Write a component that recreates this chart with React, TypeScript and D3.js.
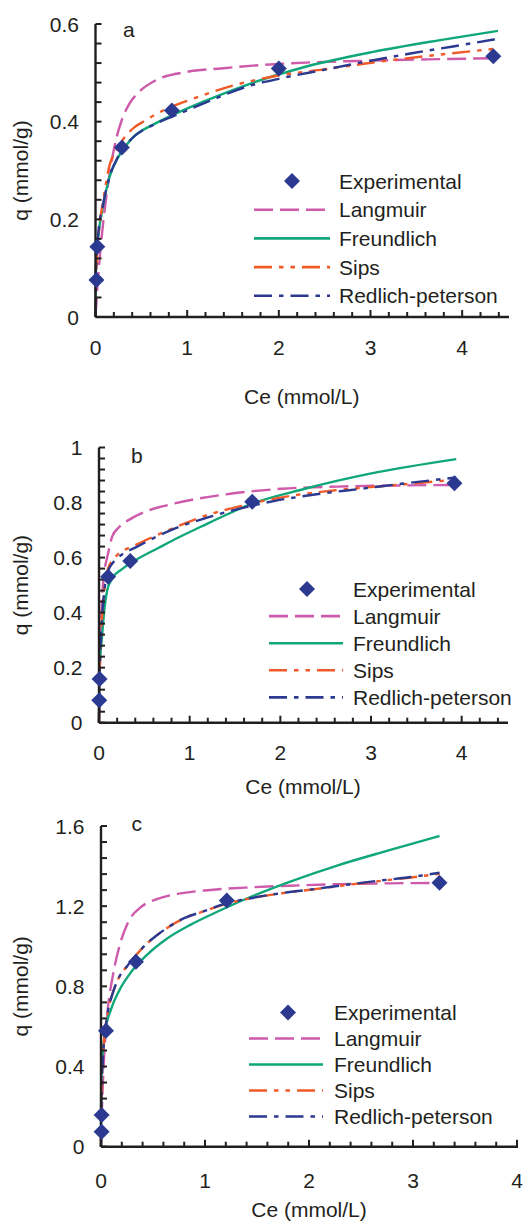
import React from "react";
import * as d3 from "d3";

type Pt = [number, number];

// ---------- tick labels ----------
const xTickLabels = [0, 1, 2, 3, 4];
const yTicksA = [0, 0.2, 0.4, 0.6];
const yTicksB = [0, 0.2, 0.4, 0.6, 0.8, 1];
const yTicksC = [0, 0.4, 0.8, 1.2, 1.6];

const seriesNames = ["Experimental", "Langmuir", "Freundlich", "Sips", "Redlich-peterson"];

// ---------- panel a ----------
const expCeA = [0.01, 0.02, 0.288, 0.833, 2.0, 4.34];
const expQA = [0.076, 0.144, 0.347, 0.423, 0.509, 0.534];
const langmuirA: Pt[] = [
  [0, 0], [0.02, 0.06], [0.05, 0.13], [0.1, 0.22], [0.16, 0.3], [0.22, 0.36], [0.29, 0.405],
  [0.37, 0.437], [0.47, 0.46], [0.65, 0.484], [1.0, 0.502], [1.37, 0.509], [1.6, 0.513],
  [2.3, 0.521], [3.0, 0.525], [3.75, 0.528], [4.38, 0.53],
];
const freundlichA: Pt[] = [
  [0, 0], [0.002, 0.08], [0.01, 0.12], [0.03, 0.165], [0.08, 0.225], [0.15, 0.285], [0.25, 0.328],
  [0.39, 0.364], [0.65, 0.396], [0.87, 0.416], [1.19, 0.442], [1.6, 0.472], [2.3, 0.513],
  [3.03, 0.543], [3.76, 0.567], [4.39, 0.586],
];
const sipsA: Pt[] = [
  [0, 0], [0.01, 0.1], [0.04, 0.18], [0.09, 0.245], [0.14, 0.3], [0.25, 0.348], [0.39, 0.383],
  [0.54, 0.402], [0.76, 0.425], [1.08, 0.448], [1.52, 0.475], [1.98, 0.494], [2.49, 0.507],
  [3.1, 0.523], [3.74, 0.537], [4.4, 0.55],
];
const redlichA: Pt[] = [
  [0, 0], [0.005, 0.1], [0.03, 0.17], [0.08, 0.228], [0.15, 0.285], [0.25, 0.33], [0.4, 0.366],
  [0.65, 0.395], [0.9, 0.415], [1.2, 0.439], [1.69, 0.474], [2.03, 0.489], [2.49, 0.506],
  [2.98, 0.524], [3.45, 0.54], [3.9, 0.554], [4.4, 0.57],
];

// ---------- panel b ----------
const expCeB = [0.003, 0.006, 0.1, 0.345, 1.69, 3.92];
const expQB = [0.082, 0.159, 0.53, 0.588, 0.803, 0.87];
const langmuirB: Pt[] = [
  [0, 0], [0.01, 0.2], [0.03, 0.42], [0.06, 0.55], [0.09, 0.6], [0.11, 0.63], [0.145, 0.676],
  [0.22, 0.71], [0.33, 0.737], [0.51, 0.767], [0.76, 0.791], [1.09, 0.814], [1.45, 0.832],
  [2.01, 0.85], [2.63, 0.858], [3.3, 0.862], [3.95, 0.864],
];
const freundlichB: Pt[] = [
  [0, 0], [0.003, 0.15], [0.01, 0.22], [0.03, 0.3], [0.055, 0.397], [0.09, 0.48], [0.145, 0.524],
  [0.25, 0.557], [0.4, 0.59], [0.655, 0.635], [0.87, 0.672], [1.13, 0.713], [1.38, 0.752],
  [1.64, 0.79], [2.27, 0.85], [2.99, 0.905], [3.94, 0.958],
];
const sipsB: Pt[] = [
  [0, 0], [0.005, 0.15], [0.02, 0.3], [0.05, 0.45], [0.1, 0.56], [0.15, 0.59], [0.2, 0.609],
  [0.4, 0.645], [0.58, 0.673], [0.84, 0.71], [1.2, 0.755], [1.6, 0.79], [2.0, 0.818],
  [2.56, 0.843], [3.21, 0.862], [3.9, 0.882],
];
const redlichB: Pt[] = [
  [0, 0], [0.005, 0.15], [0.02, 0.3], [0.05, 0.45], [0.1, 0.55], [0.15, 0.58], [0.2, 0.597],
  [0.44, 0.643], [0.84, 0.706], [1.2, 0.746], [1.54, 0.777], [1.94, 0.806], [2.42, 0.831],
  [2.89, 0.85], [3.36, 0.869], [3.94, 0.891],
];

// ---------- panel c ----------
const expCeC = [0.006, 0.006, 0.048, 0.336, 1.21, 3.255];
const expQC = [0.075, 0.158, 0.579, 0.923, 1.228, 1.317];
const langmuirC: Pt[] = [
  [0, 0], [0.01, 0.2], [0.03, 0.45], [0.064, 0.68], [0.112, 0.848], [0.176, 0.998], [0.256, 1.115],
  [0.384, 1.195], [0.543, 1.236], [0.735, 1.261], [1.055, 1.281], [1.44, 1.294], [1.81, 1.302],
  [2.29, 1.31], [2.77, 1.314], [3.25, 1.316],
];
const freundlichC: Pt[] = [
  [0, 0], [0.001, 0.2], [0.006, 0.39], [0.038, 0.566], [0.096, 0.685], [0.176, 0.78], [0.288, 0.87],
  [0.448, 0.96], [0.64, 1.04], [0.863, 1.108], [1.118, 1.172], [1.374, 1.232], [1.806, 1.32],
  [2.285, 1.405], [2.765, 1.478], [3.255, 1.55],
];
const sipsC: Pt[] = [
  [0, 0], [0.004, 0.25], [0.02, 0.45], [0.064, 0.666], [0.112, 0.765], [0.176, 0.848], [0.247, 0.898],
  [0.336, 0.955], [0.455, 1.02], [0.55, 1.06], [0.8, 1.14], [0.99, 1.175], [1.21, 1.213],
  [1.39, 1.234], [1.68, 1.26], [2.06, 1.285], [2.35, 1.305], [2.67, 1.325], [2.96, 1.342], [3.255, 1.362],
];
const redlichC: Pt[] = [
  [0, 0], [0.004, 0.25], [0.02, 0.45], [0.064, 0.666], [0.112, 0.765], [0.176, 0.848], [0.247, 0.898],
  [0.336, 0.955], [0.455, 1.02], [0.55, 1.06], [0.8, 1.14], [0.99, 1.175], [1.21, 1.215],
  [1.39, 1.235], [1.68, 1.261], [2.06, 1.286], [2.35, 1.306], [2.67, 1.327], [2.96, 1.344], [3.255, 1.367],
];

// ---------- styles ----------
const INK = "#231F20";
const FONT = "'Liberation Sans', Arial, Helvetica, sans-serif";
const FS = 21;
const styles = {
  Langmuir: { color: "#CD5AAA", dash: "19,7" },
  Freundlich: { color: "#0FA77A", dash: "" },
  Sips: { color: "#F05A28", dash: "18,7,4.5,7,4.5,7" },
  Redlich: { color: "#2B3990", dash: "18,7,4.5,7" },
  exp: "#2B3990",
};

type PanelCfg = {
  letter: string;
  letterPos: [number, number];
  xDomain: [number, number];
  xRange: [number, number];
  yDomain: [number, number];
  yRange: [number, number];
  yTicks: number[];
  yMinor: number;
  xLabelDy: number;
  xTitleY: number;
  legend: { x0: number; x1: number; mx: number; tx: number; y0: number; dy: number };
  expCe: number[];
  expQ: number[];
  lang: Pt[];
  freu: Pt[];
  sips: Pt[];
  red: Pt[];
};

const panels: PanelCfg[] = [
  {
    letter: "a", letterPos: [123, 36.5],
    xDomain: [0, 4.5], xRange: [95.5, 508], yDomain: [0, 0.6], yRange: [317, 24],
    yTicks: yTicksA, yMinor: 0.04, xLabelDy: 38, xTitleY: 403.5,
    legend: { x0: 254, x1: 330, mx: 292, tx: 339, y0: 181, dy: 28.7 },
    expCe: expCeA, expQ: expQA, lang: langmuirA, freu: freundlichA, sips: sipsA, red: redlichA,
  },
  {
    letter: "b", letterPos: [131, 462.7],
    xDomain: [0, 4.5], xRange: [99, 507], yDomain: [0, 1], yRange: [722.7, 447.5],
    yTicks: yTicksB, yMinor: 0.04, xLabelDy: 37.5, xTitleY: 794,
    legend: { x0: 269, x1: 343, mx: 307, tx: 353, y0: 589, dy: 27.1 },
    expCe: expCeB, expQ: expQB, lang: langmuirB, freu: freundlichB, sips: sipsB, red: redlichB,
  },
  {
    letter: "c", letterPos: [131.5, 831],
    xDomain: [0, 4], xRange: [101, 517], yDomain: [0, 1.6], yRange: [1146.7, 826],
    yTicks: yTicksC, yMinor: 0.08, xLabelDy: 41, xTitleY: 1216.5,
    legend: { x0: 249, x1: 323, mx: 288, tx: 334, y0: 1012.5, dy: 26 },
    expCe: expCeC, expQ: expQC, lang: langmuirC, freu: freundlichC, sips: sipsC, red: redlichC,
  },
];

const diamond = d3.symbol(d3.symbolSquare, 128)() as string;

function Panel({ p }: { p: PanelCfg }) {
  const x = d3.scaleLinear().domain(p.xDomain).range(p.xRange);
  const y = d3.scaleLinear().domain(p.yDomain).range(p.yRange);
  const line = d3
    .line<Pt>()
    .x((d) => x(d[0]))
    .y((d) => y(d[1]))
    .curve(d3.curveMonotoneX);
  const x0 = p.xRange[0];
  const y0 = p.yRange[0];
  const xMinor = d3.range(0, p.xDomain[1] + 1e-6, 0.2);
  const yMinor = d3.range(0, p.yDomain[1] + 1e-6, p.yMinor);
  const midY = (p.yRange[0] + p.yRange[1]) / 2;
  const midX = (p.xRange[0] + p.xRange[1]) / 2;
  const series = [
    { key: "Langmuir", data: p.lang, st: styles.Langmuir },
    { key: "Freundlich", data: p.freu, st: styles.Freundlich },
    { key: "Sips", data: p.sips, st: styles.Sips },
    { key: "Redlich", data: p.red, st: styles.Redlich },
  ];
  const L = p.legend;
  return (
    <g>
      {series.map((s) => (
        <path
          key={s.key}
          d={line(s.data) as string}
          fill="none"
          stroke={s.st.color}
          strokeWidth={2.4}
          strokeDasharray={s.st.dash || undefined}
        />
      ))}
      <line x1={x0} x2={x0} y1={y0} y2={p.yRange[1]} stroke={INK} strokeWidth={2.4} />
      <line x1={x0} x2={p.xRange[1] + 1} y1={y0} y2={y0} stroke={INK} strokeWidth={2.4} />
      {yMinor.map((v, i) => (
        <line key={"ym" + i} x1={x0} x2={x0 + 6} y1={y(v)} y2={y(v)} stroke={INK} strokeWidth={2} />
      ))}
      {xMinor.map((v, i) => {
        const major = Math.abs(v - Math.round(v)) < 1e-6;
        return (
          <line key={"xm" + i} x1={x(v)} x2={x(v)} y1={y0} y2={y0 - (major ? 7 : 5)} stroke={INK} strokeWidth={2} />
        );
      })}
      {p.yTicks.map((v) => (
        <text key={"yl" + v} x={x0 - 16.5} y={y(v) + 7.5} textAnchor="end" fontSize={FS} fontFamily={FONT} fill={INK}>
          {String(v)}
        </text>
      ))}
      {xTickLabels.map((v) => (
        <text key={"xl" + v} x={x(v)} y={y0 + p.xLabelDy} textAnchor="middle" fontSize={FS} fontFamily={FONT} fill={INK}>
          {String(v)}
        </text>
      ))}
      <text x={midX} y={p.xTitleY} textAnchor="middle" fontSize={FS} fontFamily={FONT} fill={INK}>
        Ce (mmol/L)
      </text>
      <text
        transform={`translate(27.5,${midY}) rotate(-90)`}
        textAnchor="middle"
        fontSize={FS}
        fontFamily={FONT}
        fill={INK}
      >
        q (mmol/g)
      </text>
      <text x={p.letterPos[0]} y={p.letterPos[1]} fontSize={FS} fontFamily={FONT} fill={INK}>
        {p.letter}
      </text>
      {p.expCe.map((c, i) => (
        <path
          key={"e" + i}
          d={diamond}
          transform={`translate(${x(c)},${y(p.expQ[i])}) rotate(45)`}
          fill={styles.exp}
        />
      ))}
      <path d={diamond} transform={`translate(${L.mx},${L.y0}) rotate(45)`} fill={styles.exp} />
      <text x={L.tx} y={L.y0 + 7.5} fontSize={FS} fontFamily={FONT} fill={INK}>
        {seriesNames[0]}
      </text>
      {series.map((s, i) => {
        const yy = L.y0 + L.dy * (i + 1);
        return (
          <g key={"lg" + s.key}>
            <line
              x1={L.x0}
              x2={L.x1}
              y1={yy}
              y2={yy}
              stroke={s.st.color}
              strokeWidth={2.6}
              strokeDasharray={s.st.dash || undefined}
            />
            <text x={L.tx} y={yy + 7.5} fontSize={FS} fontFamily={FONT} fill={INK}>
              {seriesNames[i + 1]}
            </text>
          </g>
        );
      })}
    </g>
  );
}

export default function App() {
  return (
    <svg
      width={528}
      height={1222}
      viewBox="0 0 528 1222"
      style={{ position: "absolute", left: 0, top: 0, background: "#fff" }}
    >
      <rect x={0} y={0} width={528} height={1222} fill="#fff" />
      {panels.map((p) => (
        <Panel key={p.letter} p={p} />
      ))}
    </svg>
  );
}
